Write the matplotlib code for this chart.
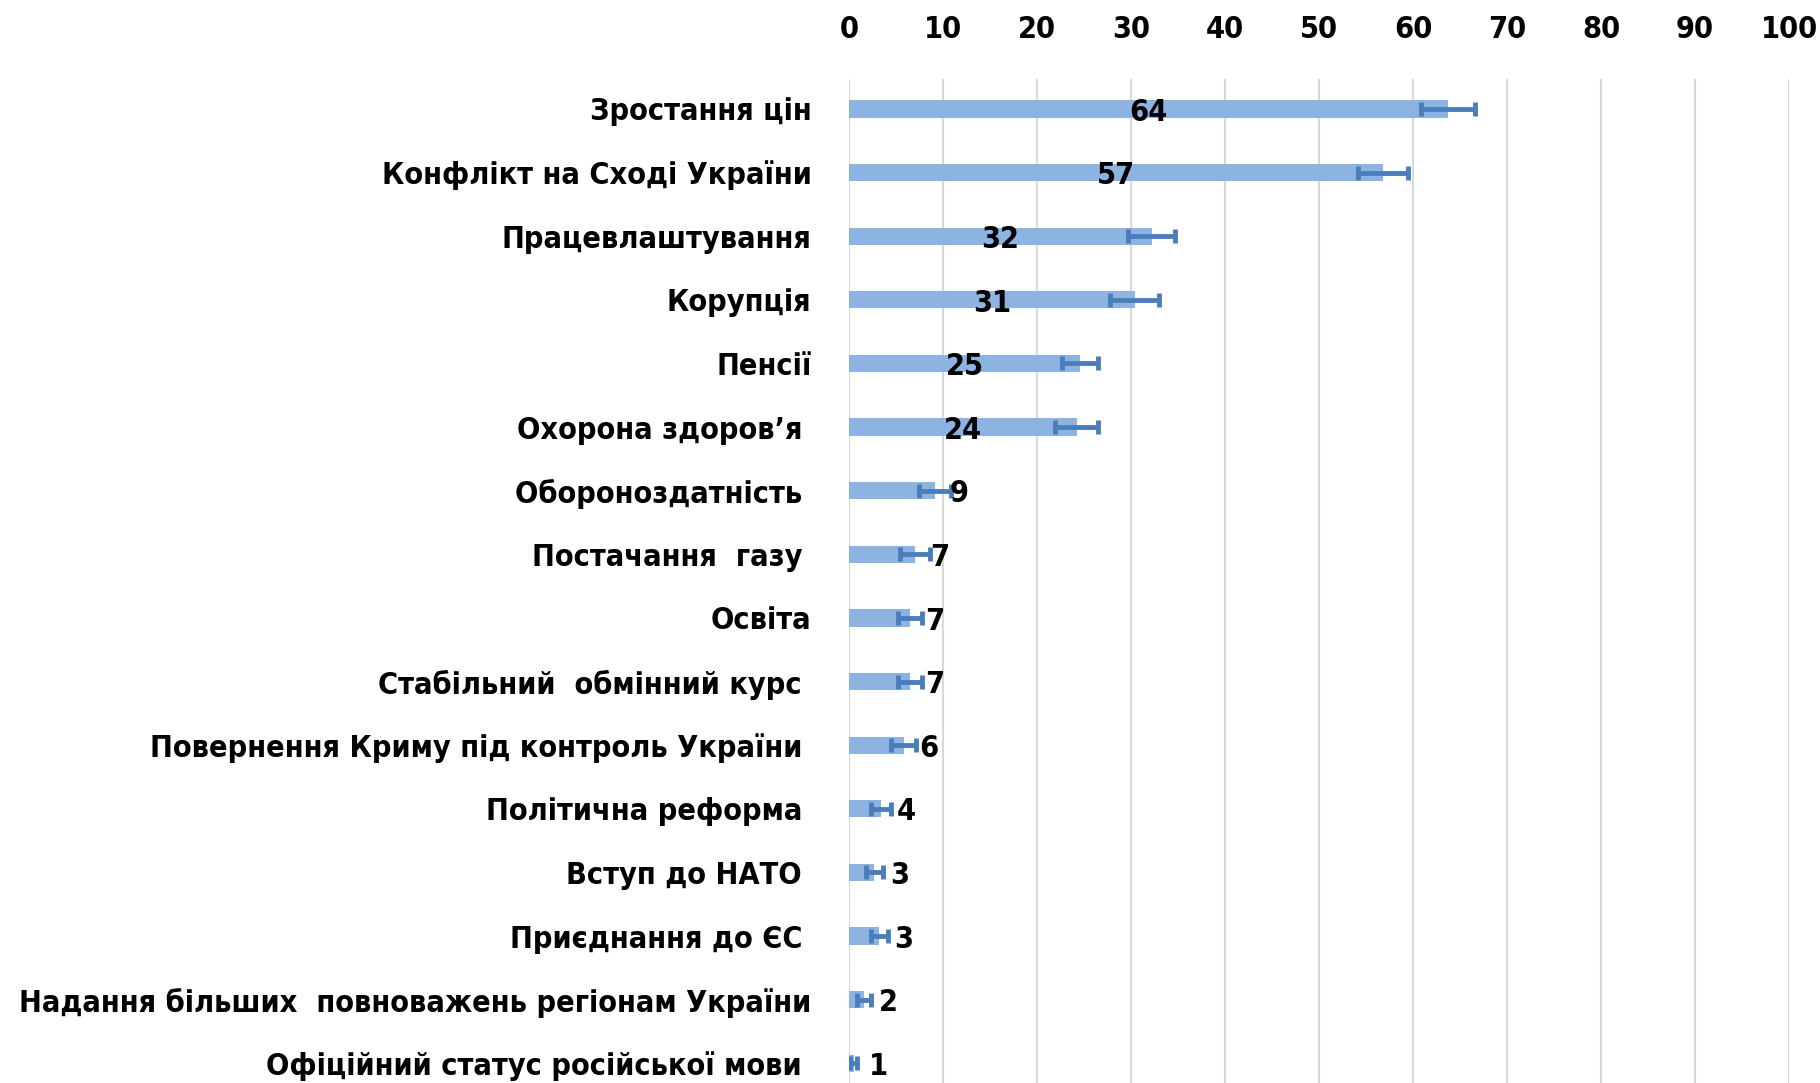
import numpy as np
import matplotlib
matplotlib.use("Agg")
import matplotlib.pyplot as plt

plt.rcParams['font.family'] = ['DejaVu Sans']
plt.rcParams['font.stretch'] = 'condensed'

# categories, top to bottom
categories = [
    "Зростання цін",
    "Конфлікт на Сході України",
    "Працевлаштування",
    "Корупція",
    "Пенсії",
    "Охорона здоров’я ",
    "Обороноздатність ",
    "Постачання  газу ",
    "Освіта",
    "Стабільний  обмінний курс ",
    "Повернення Криму під контроль України ",
    "Політична реформа ",
    "Вступ до НАТО ",
    "Приєднання до ЄС ",
    "Надання більших  повноважень регіонам України",
    "Офіційний статус російської мови ",
]
# bar lengths
values = [63.7, 56.8, 32.2, 30.4, 24.6, 24.2, 9.1, 7.0, 6.5, 6.5, 5.8, 3.4, 2.7, 3.2, 1.6, 0.5]
# printed labels
value_labels = ["64", "57", "32", "31", "25", "24", "9", "7", "7", "7", "6", "4", "3", "3", "2", "1"]
# error margins
errors = [2.9, 2.7, 2.5, 2.6, 1.9, 2.3, 1.7, 1.6, 1.3, 1.3, 1.3, 1.1, 0.9, 0.9, 0.7, 0.4]

xticks = [0, 10, 20, 30, 40, 50, 60, 70, 80, 90, 100]

bar_color = '#8db3e2'
err_color = '#4a7ebb'

fig = plt.figure(figsize=(18.2, 10.83), dpi=100)
ax = fig.add_axes([0.4665, 0.0, 0.5165, 0.927])

y = np.arange(len(categories))
ax.barh(y, values, height=0.27, color=bar_color, zorder=2)
ax.errorbar(values, y, xerr=errors, fmt='none', ecolor=err_color,
            elinewidth=3.5, capsize=5, capthick=3.5, zorder=3)

# value labels: inside (centred) for long bars, outside for short ones
for i, (v, lab) in enumerate(zip(values, value_labels)):
    if v > 20:
        ax.text(v / 2, i + 0.05, lab, ha='center', va='center',
                fontsize=22, fontweight='bold', zorder=4)
    else:
        ax.annotate(lab, (v, i + 0.05), xytext=(11, 0), textcoords='offset points',
                    ha='left', va='center', fontsize=22, fontweight='bold', zorder=4)

ax.set_xlim(0, 100)
ax.set_ylim(15.31, -0.47)
ax.set_xticks(xticks)
ax.xaxis.tick_top()
ax.tick_params(axis='x', length=0, pad=25, labelsize=22)
ax.tick_params(axis='y', length=0, pad=27, labelsize=22)
for lab in ax.get_xticklabels():
    lab.set_fontweight('bold')
ax.set_yticks(y)
ax.set_yticklabels(categories, fontweight='bold')

ax.grid(axis='x', color='#d9d9d9', linewidth=1.5, zorder=0)
ax.set_axisbelow(True)
for s in ax.spines.values():
    s.set_visible(False)

fig.savefig("out.png", dpi=100)
